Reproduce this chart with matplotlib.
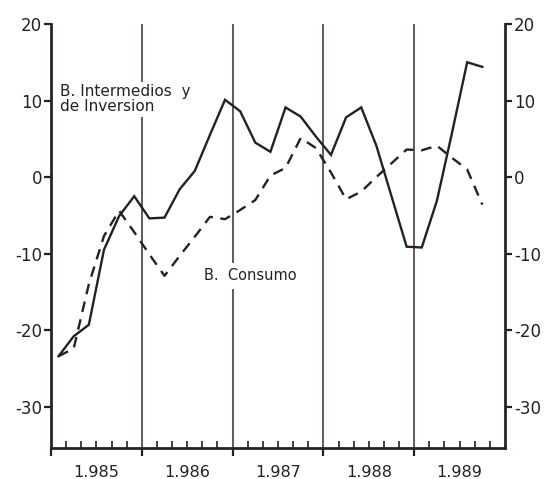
import matplotlib
matplotlib.use("Agg")
import matplotlib.pyplot as plt
import matplotlib.transforms as mtransforms
import numpy as np

plt.rcParams['font.family'] = ['DejaVu Sans']
plt.rcParams['axes.unicode_minus'] = False

# Bimonthly observations, 1985 (1st) .. 1989 (5th)
years = [1985, 1986, 1987, 1988, 1989]
year_labels = ["1.985", "1.986", "1.987", "1.988", "1.989"]
periods_per_year = 6

intermedios = [-23.4, -20.8, -19.3, -9.5, -5.1, -2.5,
               -5.4, -5.3, -1.6, 0.8, 5.5, 10.1,
               8.6, 4.5, 3.3, 9.1, 7.9, 5.3,
               2.9, 7.8, 9.1, 4.1, -2.5, -9.1,
               -9.2, -3.1, 5.8, 15.0, 14.4]
consumo = [-23.4, -22.4, -14.0, -7.7, -4.4, -7.2,
           -10.1, -12.9, -10.3, -7.8, -5.2, -5.5,
           -4.3, -3.0, 0.2, 1.2, 5.1, 3.8,
           0.6, -2.9, -1.9, 0.0, 1.8, 3.6,
           3.5, 4.1, 2.5, 1.0, -3.6]
yticks = [20, 10, 0, -10, -20, -30]

x = [years[0] + (i + 0.5) / periods_per_year for i in range(len(intermedios))]

fig = plt.figure(figsize=(5.5, 4.79), dpi=100)
ax = fig.add_axes([51/550, 1 - 448/479, (505-51)/550, (448-24)/479])

ax.plot(x, intermedios, color='#222222', lw=1.7, solid_joinstyle='miter', zorder=3)
ax.plot(x, consumo, color='#222222', lw=1.7, ls=(0, (4.5, 3.2)), zorder=3)

for yr in years[1:]:
    ax.axvline(yr, color='#3a2a35', lw=1.1, zorder=1)

ax.set_xlim(years[0], years[-1] + 1)
ax.set_ylim(-35.4, 20)

for s in ['left', 'right', 'bottom']:
    ax.spines[s].set_linewidth(2.0)
    ax.spines[s].set_color('#2a2228')
ax.spines['top'].set_visible(False)

ax.set_yticks(yticks)
ax.set_yticklabels([str(v) for v in yticks])
ax.tick_params(axis='y', direction='out', length=5, width=1.6, left=True, right=True,
               labelleft=True, labelright=True, labelsize=12, pad=1.5, colors='#222222')

ax.set_xticks(years)
ax.set_xticklabels([])
ax.set_xticks([yr + k / periods_per_year for yr in years for k in range(1, periods_per_year)], minor=True)
ax.tick_params(axis='x', which='major', direction='out', length=6, width=1.6, color='#222222')
ax.tick_params(axis='x', which='minor', direction='in', length=5, width=1.2, color='#222222')

trans = mtransforms.blended_transform_factory(ax.transData, ax.transAxes)
for yr, lab in zip(years, year_labels):
    ax.text(yr + 0.5, -0.058, lab, transform=trans, ha='center', va='center',
            fontsize=11.5, color='#222222')

ax.text(1985.095, 12.1, "B. Intermedios  y\nde Inversion", ha='left', va='top',
        fontsize=11, color='#222222', linespacing=1.0, zorder=2,
        bbox=dict(facecolor='white', edgecolor='none', pad=1.5))
ax.text(1986.68, -12.9, "B.  Consumo", ha='left', va='center',
        fontsize=10.5, color='#222222', zorder=2,
        bbox=dict(facecolor='white', edgecolor='none', pad=4))

fig.savefig("out.png", dpi=100)
